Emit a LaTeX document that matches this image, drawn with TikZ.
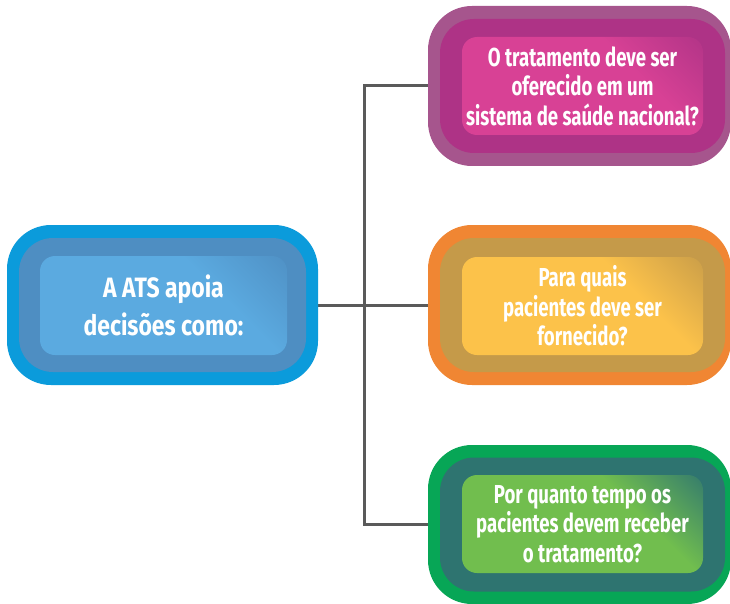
\documentclass[tikz,border=0pt]{standalone}
\usepackage{fontspec}
\setmainfont{Fira Sans}[FakeStretch=0.715]
\newfontfamily\leftfont{Fira Sans}[FakeStretch=0.82]
\usetikzlibrary{backgrounds}
\definecolor{outB}{HTML}{0B9BDB}\definecolor{midB}{HTML}{4E8EC2}\definecolor{inB}{HTML}{5BAAE0}
\definecolor{outM}{HTML}{A6558D}\definecolor{midM}{HTML}{AE3386}\definecolor{inM}{HTML}{D84195}
\definecolor{outO}{HTML}{F08633}\definecolor{midO}{HTML}{C59A49}\definecolor{inO}{HTML}{FCC24A}
\definecolor{outG}{HTML}{07A656}\definecolor{midG}{HTML}{2E7470}\definecolor{inG}{HTML}{71BE4E}
\definecolor{connc}{HTML}{5A5A5A}
\pgfdeclarehorizontalshading{shB}{100bp}{color(0bp)=(inB); color(64bp)=(inB); color(88bp)=(midB); color(100bp)=(midB)}
\pgfdeclarehorizontalshading{shM}{100bp}{color(0bp)=(inM); color(64bp)=(inM); color(88bp)=(midM); color(100bp)=(midM)}
\pgfdeclarehorizontalshading{shO}{100bp}{color(0bp)=(inO); color(64bp)=(inO); color(88bp)=(midO); color(100bp)=(midO)}
\pgfdeclarehorizontalshading{shG}{100bp}{color(0bp)=(inG); color(64bp)=(inG); color(88bp)=(midG); color(100bp)=(midG)}
\tikzset{
  outerbox/.style={rectangle, rounded corners=44pt, inner sep=0pt, minimum height=160pt},
  midbox/.style={rectangle, rounded corners=34pt, inner sep=0pt, minimum height=134pt},
  innerbox/.style={rectangle, rounded corners=15pt, inner sep=0pt, minimum height=98pt,
    shading angle=45, text=white, align=center, font=\bfseries\fontsize{26}{29.5}\selectfont},
  conn/.style={draw=connc, line width=3pt, line join=miter},
}
\begin{document}
\begin{tikzpicture}[x=1pt,y=-1pt]
\useasboundingbox (0,0) rectangle (730,604);
% left
\node[outerbox, fill=outB, minimum width=311pt] (L) at (162.5,305) {};
\node[midbox, fill=midB, minimum width=287pt] (Lm) at (162.5,305) {};
\node[innerbox, shading=shB, minimum width=247pt, minimum height=99pt,
  font=\leftfont\bfseries\fontsize{28}{38}\selectfont] (Li) at (163.5,305.5) {A ATS apoia\\decisões como:};
% top right
\node[outerbox, fill=outM, minimum width=303pt] (R1) at (579.5,86) {};
\node[midbox, fill=midM, minimum width=285pt] (R1m) at (582.5,86) {};
\node[innerbox, shading=shM, minimum width=241pt] (R1i) at (582.5,86) {O tratamento deve ser\\oferecido em um\\sistema de saúde nacional?};
% middle right
\node[outerbox, fill=outO, minimum width=303pt] (R2) at (579.5,305) {};
\node[midbox, fill=midO, minimum width=285pt] (R2m) at (582.5,305) {};
\node[innerbox, shading=shO, minimum width=241pt] (R2i) at (582.5,306) {Para quais\\pacientes deve ser\\fornecido?};
% bottom right
\node[outerbox, fill=outG, minimum width=303pt, minimum height=159pt] (R3) at (579.5,524.5) {};
\node[midbox, fill=midG, minimum width=285pt] (R3m) at (582.5,524.5) {};
\node[innerbox, shading=shG, minimum width=241pt] (R3i) at (582.5,524) {Por quanto tempo os\\pacientes devem receber\\o tratamento?};
% connectors
\coordinate (J) at (364,305);
\begin{scope}[on background layer]
\draw[conn] (L.east) -- (J);
\draw[conn] (J) -- (R2.west);
\draw[conn] (R1.west) -| (J) |- (R3.west);
\end{scope}
\end{tikzpicture}
\end{document}
